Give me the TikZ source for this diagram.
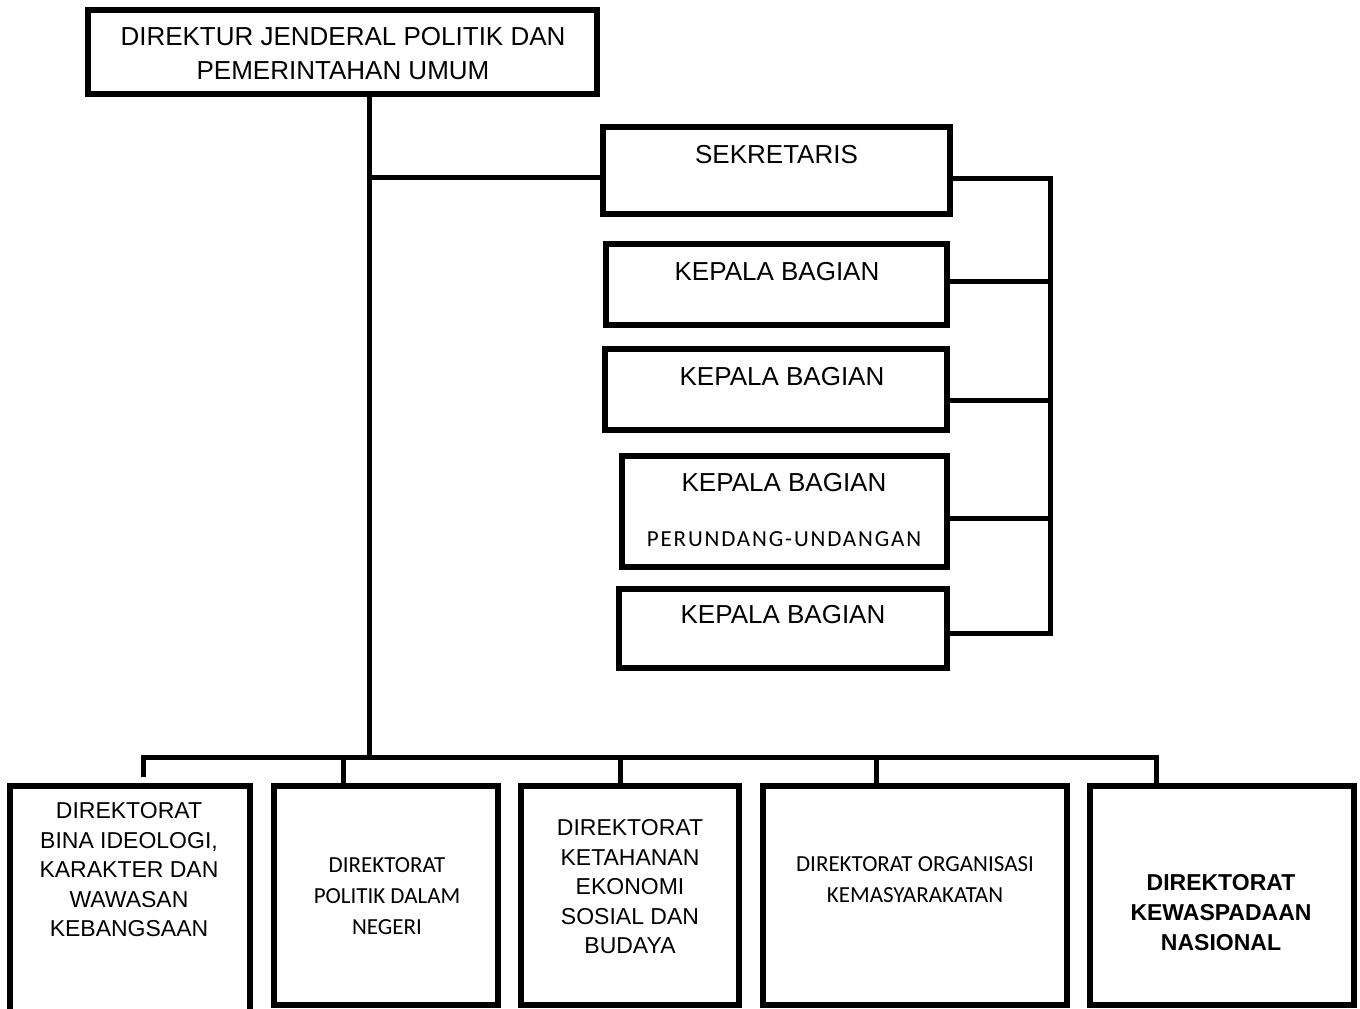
\documentclass[tikz,border=0pt]{standalone}
\usepackage{fontspec}
\setmainfont{Liberation Sans}
\newfontfamily\calibri{Carlito}
\newfontfamily\calibriwide[LetterSpace=8]{Carlito}
\usetikzlibrary{positioning}

\tikzset{
    box/.style={draw, line width=5.5pt, inner sep=0pt},
    wire/.style={line width=5pt},
    big/.style={align=center, inner sep=0pt, font=\fontsize{26}{34}\selectfont},
    mid/.style={align=center, inner sep=0pt, font=\fontsize{23}{29.5}\selectfont},
    cal/.style={align=center, inner sep=0pt, font=\calibri\fontsize{23}{31}\selectfont}
}

\begin{document}
\begin{tikzpicture}[x=1pt, y=1pt]
            \clip (0,0) rectangle (1360,-1009);

            \node[box, minimum width=509, minimum height=84] (dg) at (342.5,-52) {};
            \node[big] (dg-t) at (343,-54) {DIREKTUR JENDERAL POLITIK DAN\\PEMERINTAHAN UMUM};

            \node[box, minimum width=347, minimum height=87] (sek) at (776.5,-170.5) {};
            \node[big] (sek-t) at (776.5,-155) {SEKRETARIS};
            \node[box, minimum width=341, minimum height=81] (kb1) at (776.5,-284.5) {};
            \node[big] (kb1-t) at (777,-272) {KEPALA BAGIAN};
            \node[box, minimum width=342, minimum height=81] (kb2) at (776,-389.5) {};
            \node[big] (kb2-t) at (782,-377) {KEPALA BAGIAN};
            \node[box, minimum width=325, minimum height=111] (kb3) at (784.5,-511.5) {};
            \node[big] (kb3-t) at (784,-483) {KEPALA BAGIAN};
            \node[inner sep=0pt, font=\calibriwide\fontsize{23}{28}\selectfont] (kb3-s) at (784,-539) {PERUNDANG-UNDANGAN};
            \node[box, minimum width=328, minimum height=79] (kb4) at (783,-628.5) {};
            \node[big] (kb4-t) at (783,-615) {KEPALA BAGIAN};

            \node[box, minimum width=240, minimum height=254] (b1) at (130,-913) {};
            \node[mid] (b1-t) at (129,-870) {DIREKTORAT\\BINA IDEOLOGI,\\KARAKTER DAN\\WAWASAN\\KEBANGSAAN};
            \node[box, minimum width=224, minimum height=219] (b2) at (386,-895.5) {};
            \node[cal] (b2-t) at (387,-896.5) {DIREKTORAT\\POLITIK DALAM\\NEGERI};
            \node[box, minimum width=218, minimum height=219] (b3) at (630,-895.5) {};
            \node[mid] (b3-t) at (630,-887) {DIREKTORAT\\KETAHANAN\\EKONOMI\\SOSIAL DAN\\BUDAYA};
            \node[box, minimum width=304, minimum height=219] (b4) at (915,-895.5) {};
            \node[cal] (b4-t) at (915,-880) {DIREKTORAT ORGANISASI\\KEMASYARAKATAN};
            \node[box, minimum width=264, minimum height=219] (b5) at (1222,-895.5) {};
            \node[mid, font=\bfseries\fontsize{23}{30}\selectfont] (b5-t) at (1221,-913) {DIREKTORAT\\KEWASPADAAN\\NASIONAL};

            \coordinate (j) at (369,-757);
            \coordinate (bl) at (143,-757);
            \coordinate (br) at (1156,-757);
            \coordinate (rt) at (1050,-178);
            \coordinate (rb) at (1050,-633);

            \draw[wire] (dg.south -| j) -- (j);
            \draw[wire] ([yshift=-6.5pt]sek.west) -- ([yshift=-6.5pt]sek.west -| j);

            \draw[wire] ([yshift=-7.5pt]sek.east) -- (rt) -- (rb) -- ([yshift=-4.5pt]kb4.east);
            \foreach \b/\s in {kb1/3.5, kb2/-10.5, kb3/-6.5}
                \draw[wire] ([yshift=\s pt]\b.east) -- ([yshift=\s pt]\b.east -| rt);

            \draw[wire] ([xshift=13pt, yshift=6pt]b1.north) -- (bl) -- (br) -- ([xshift=-66pt]b5.north);
            \foreach \b/\s in {b2/-43, b3/-10, b4/-39}
                \draw[wire] ([xshift=\s pt]\b.north) -- ([xshift=\s pt]\b.north |- j);
        \end{tikzpicture}
\end{document}
